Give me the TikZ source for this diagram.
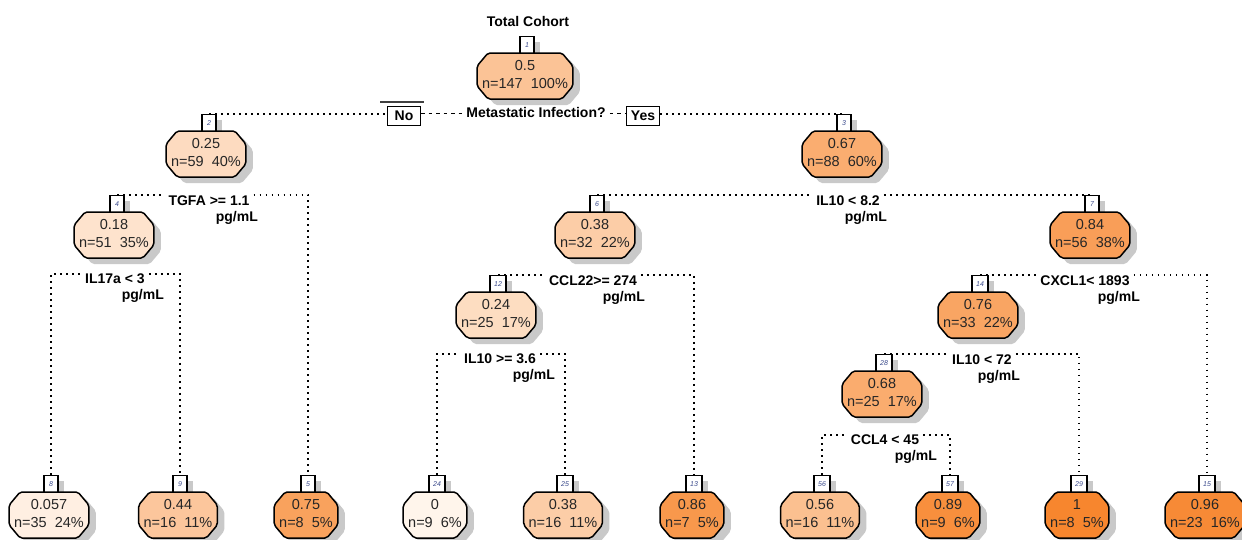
\documentclass[tikz,border=0pt]{standalone}
\usepackage{fontspec}
\setmainfont{Liberation Sans}
\usetikzlibrary{shapes.misc,shadows,backgrounds}
\definecolor{c0}{HTML}{FFF5EB}
\definecolor{c1}{HTML}{F7862E}
\definecolor{shd}{HTML}{C9C9C9}
\definecolor{tabtxt}{HTML}{3A4A8C}
\definecolor{txt}{HTML}{262626}
\newcommand\bt[2]{\raisebox{-3pt}{\begin{tabular}{@{}c@{}}#1\\#2\end{tabular}}}
\tikzset{
  tbox/.style={chamfered rectangle, chamfered rectangle xsep=8pt, chamfered rectangle angle=40,
    inner xsep=-3pt, inner ysep=0pt, rounded corners=2pt,
    minimum height=46pt, draw=black, line width=1.5pt, text=txt,
    font=\fontsize{14.5}{17.5}\selectfont, fill=c1!#1!c0,
    drop shadow={shadow xshift=7pt, shadow yshift=-6pt, fill=shd, opacity=1, draw=none}},
  tabn/.style={rectangle, draw=black, line width=1.2pt, fill=white, minimum width=14pt,
    minimum height=17pt, inner sep=0pt, font=\fontsize{7}{7}\selectfont\itshape, text=tabtxt,
    anchor=south, drop shadow={shadow xshift=6pt, shadow yshift=-6pt, fill=shd, opacity=1, draw=none}},
  tabw/.style={minimum width=16pt},
  lab/.style={font=\bfseries\fontsize{14}{16}\selectfont, inner xsep=4pt, inner ysep=0pt, anchor=base},
  pgl/.style={font=\bfseries\fontsize{14}{16}\selectfont, inner sep=0pt, anchor=base east},
  dotl/.style={line width=1.6pt, dash pattern=on 1.6pt off 4.4pt},
  dashl/.style={line width=1.3pt, dash pattern=on 3.5pt off 4pt},
  yn/.style={rectangle, draw, line width=1pt, fill=white, minimum width=33pt, minimum height=19pt,
    inner sep=0pt, font=\bfseries\fontsize{14}{16}\selectfont}
}
\begin{document}
\begin{tikzpicture}[x=1pt,y=-1pt]
\useasboundingbox (0,0) rectangle (1242,539);
% tabs
\node[tabn] (t1) at (527,54) {\raisebox{-3pt}{1}};
\node[tabn] (t2) at (209,132) {\raisebox{-3pt}{2}};
\node[tabn] (t3) at (844,132) {\raisebox{-3pt}{3}};
\node[tabn] (t4) at (117,213) {\raisebox{-3pt}{4}};
\node[tabn] (t6) at (597,213) {\raisebox{-3pt}{6}};
\node[tabn] (t7) at (1092,213) {\raisebox{-3pt}{7}};
\node[tabn,tabw] (t12) at (498,293) {\raisebox{-3pt}{12}};
\node[tabn,tabw] (t14) at (980,293) {\raisebox{-3pt}{14}};
\node[tabn,tabw] (t28) at (884,372) {\raisebox{-3pt}{28}};
\node[tabn] (t8) at (51,493) {\raisebox{-3pt}{8}};
\node[tabn] (t9) at (180,493) {\raisebox{-3pt}{9}};
\node[tabn] (t5) at (308,493) {\raisebox{-3pt}{5}};
\node[tabn,tabw] (t24) at (437,493) {\raisebox{-3pt}{24}};
\node[tabn,tabw] (t25) at (565,493) {\raisebox{-3pt}{25}};
\node[tabn,tabw] (t13) at (694,493) {\raisebox{-3pt}{13}};
\node[tabn,tabw] (t56) at (822,493) {\raisebox{-3pt}{56}};
\node[tabn,tabw] (t57) at (950,493) {\raisebox{-3pt}{57}};
\node[tabn,tabw] (t29) at (1079,493) {\raisebox{-3pt}{29}};
\node[tabn,tabw] (t15) at (1207,493) {\raisebox{-3pt}{15}};
% boxes
\node[tbox=45] (b1) at (525,76) {\bt{0.5}{n=147~~100\%}};
\node[tbox=23] (b2) at (206,154) {\bt{0.25}{n=59~~40\%}};
\node[tbox=65] (b3) at (842,154) {\bt{0.67}{n=88~~60\%}};
\node[tbox=16] (b4) at (114,235) {\bt{0.18}{n=51~~35\%}};
\node[tbox=36] (b6) at (595,235) {\bt{0.38}{n=32~~22\%}};
\node[tbox=78] (b7) at (1090,235) {\bt{0.84}{n=56~~38\%}};
\node[tbox=22] (b12) at (496,315) {\bt{0.24}{n=25~~17\%}};
\node[tbox=72] (b14) at (978,315) {\bt{0.76}{n=33~~22\%}};
\node[tbox=66] (b28) at (882,394) {\bt{0.68}{n=25~~17\%}};
\node[tbox=5] (b8) at (49,515) {\bt{0.057}{n=35~~24\%}};
\node[tbox=42] (b9) at (178,515) {\bt{0.44}{n=16~~11\%}};
\node[tbox=75] (b5) at (306,515) {\bt{0.75}{n=8~~5\%}};
\node[tbox=0] (b24) at (435,515) {\bt{0}{n=9~~6\%}};
\node[tbox=36] (b25) at (563,515) {\bt{0.38}{n=16~~11\%}};
\node[tbox=84] (b13) at (692,515) {\bt{0.86}{n=7~~5\%}};
\node[tbox=48] (b56) at (820,515) {\bt{0.56}{n=16~~11\%}};
\node[tbox=92] (b57) at (948,515) {\bt{0.89}{n=9~~6\%}};
\node[tbox=100] (b29) at (1077,515) {\bt{1}{n=8~~5\%}};
\node[tbox=96] (b15) at (1205,515) {\bt{0.96}{n=23~~16\%}};
% labels
\node[lab] (tc) at (528,26) {Total Cohort};
\node[lab,anchor=center] (mi) at (536,112) {Metastatic Infection?};
\node[yn] (no) at (404,116) {No};
\node[yn] (yes) at (643,116) {Yes};
\draw[line width=1.1pt, black!75] ([shift={(-7pt,4pt)}]no.north west) -- ([shift={(3pt,4pt)}]no.north east);
\node[lab] (l2) at (209,205) {TGFA >= 1.1};
\node[pgl] (p2) at (258,221) {pg/mL};
\node[lab] (l3) at (115,283) {IL17a < 3};
\node[pgl] (p3) at (164,299) {pg/mL};
\node[lab] (l4) at (848,205) {IL10 < 8.2};
\node[pgl] (p4) at (887,221) {pg/mL};
\node[lab] (l5) at (593,285) {CCL22>= 274};
\node[pgl] (p5) at (645,301) {pg/mL};
\node[lab] (l6) at (500,363) {IL10 >= 3.6};
\node[pgl] (p6) at (555,379) {pg/mL};
\node[lab] (l7) at (1085,285) {CXCL1< 1893};
\node[pgl] (p7) at (1140,301) {pg/mL};
\node[lab] (l8) at (982,364) {IL10 < 72};
\node[pgl] (p8) at (1020,380) {pg/mL};
\node[lab] (l9) at (885,444) {CCL4 < 45};
\node[pgl] (p9) at (937,460) {pg/mL};
\coordinate (y3) at (0,274);
\coordinate (y6) at (0,354);
\coordinate (y9) at (0,435);
% connectors
\begin{scope}[on background layer]
\draw[dotl] (t2.north) -- (no.west |- t2.north);
\draw[dashl] (no.east |- t2.north) -- (mi.west |- t2.north);
\draw[dashl] (mi.east |- t2.north) -- (yes.west |- t2.north);
\draw[dotl] (yes.east |- t2.north) -- (t3.north);
\draw[dotl] (t4.north) -- (l2.west |- t4.north);
\draw[dotl] (l2.east |- t4.north) -| (t5.north);
\draw[dotl] (t8.north) -- (t8.north |- y3) -- (l3.west |- y3);
\draw[dotl] (l3.east |- y3) -- (t9.north |- y3) -- (t9.north);
\draw[dotl] (t6.north) -- (l4.west |- t6.north);
\draw[dotl] (l4.east |- t6.north) -- (t7.north);
\draw[dotl] (t12.north) -- (l5.west |- t12.north);
\draw[dotl] (l5.east |- t12.north) -| (t13.north);
\draw[dotl] (t24.north) -- (t24.north |- y6) -- (l6.west |- y6);
\draw[dotl] (l6.east |- y6) -- (t25.north |- y6) -- (t25.north);
\draw[dotl] (t14.north) -- (l7.west |- t14.north);
\draw[dotl] (l7.east |- t14.north) -| (t15.north);
\draw[dotl] (t28.north) -- (l8.west |- t28.north);
\draw[dotl] (l8.east |- t28.north) -| (t29.north);
\draw[dotl] (t56.north) -- (t56.north |- y9) -- (l9.west |- y9);
\draw[dotl] (l9.east |- y9) -- (t57.north |- y9) -- (t57.north);
\end{scope}
\end{tikzpicture}
\end{document}
